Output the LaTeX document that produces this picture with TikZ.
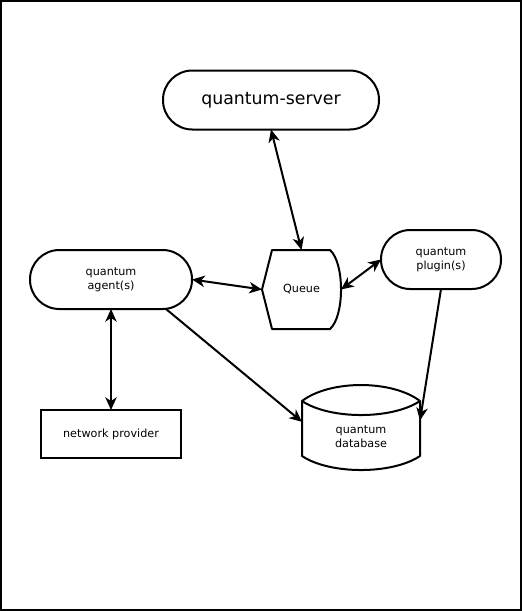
\documentclass[tikz,border=0pt]{standalone}
\usepackage{fontspec}
\setmainfont{DejaVu Sans}
\usetikzlibrary{arrows.meta}
\begin{document}
\begin{tikzpicture}[x=0.75pt,y=-0.75pt,
  every node/.style={inner sep=0pt, outer sep=0pt, align=center},
  smalltext/.style={font=\fontsize{8.4}{10.5}\selectfont},
  pill/.style={draw, line width=1.5pt, rounded corners=22pt, minimum height=44.25pt, smalltext},
  boxnode/.style={draw, line width=1.5pt, rectangle, smalltext},
  shapeline/.style={line width=1.5pt, line join=round},
  tip/.style={Stealth[length=9.5pt,width=8.5pt,inset=2.8pt]},
  conn/.style={line width=1.5pt, -{Stealth[length=9.5pt,width=8.5pt,inset=2.8pt]}},
  biconn/.style={line width=1.5pt, {Stealth[length=9.5pt,width=8.5pt,inset=2.8pt]}-{Stealth[length=9.5pt,width=8.5pt,inset=2.8pt]}}
]
\useasboundingbox (0,0) rectangle (522,611);
\draw[line width=1.5pt] (1,1) rectangle (521,610);

% nodes
\node[pill, minimum width=162pt, font=\fontsize{13}{15}\selectfont] (server) at (271,100) {quantum-server};
\node[pill, minimum width=121.5pt] (agent) at (111,279.5) {quantum\\agent(s)};
\node[pill, minimum width=90pt] (plugin) at (441,259.5) {quantum\\plugin(s)};
\node[boxnode, minimum width=105pt, minimum height=36pt] (net) at (111,434) {network provider};
\node[smalltext, minimum width=59.25pt, minimum height=59.25pt] (queue) at (301.5,289.5) {Queue};
\node[minimum width=88.5pt, minimum height=65.25pt] (db) at (361,426.5) {};
\node[smalltext] (dbtext) at (361,437) {quantum\\database};

% queue shape (display)
\draw[shapeline] (272,250) -- (330,250) .. controls (344.7,263) and (344.7,316) .. (330,329) -- (272,329) -- (262,289.5) -- cycle;

% database shape
\draw[shapeline] (302,401) .. controls (330,379.7) and (392,379.7) .. (420,401)
  -- (420,456) .. controls (392,474.7) and (330,474.7) .. (302,456) -- cycle;
\draw[shapeline] (302,401) .. controls (330,419.7) and (392,419.7) .. (420,401);

% connectors
\draw[biconn] (server.south) -- (queue.north);
\draw[biconn] (agent.east) -- (queue.west);
\draw[biconn] (queue.east) -- (plugin.west);
\draw[biconn] (agent.south) -- (net.north);
\draw[conn] ([xshift=41.25pt]agent.south) -- ([yshift=3.5pt]db.west);
\draw[conn] (plugin.south) -- ([yshift=4.5pt]db.east);
\end{tikzpicture}
\end{document}
